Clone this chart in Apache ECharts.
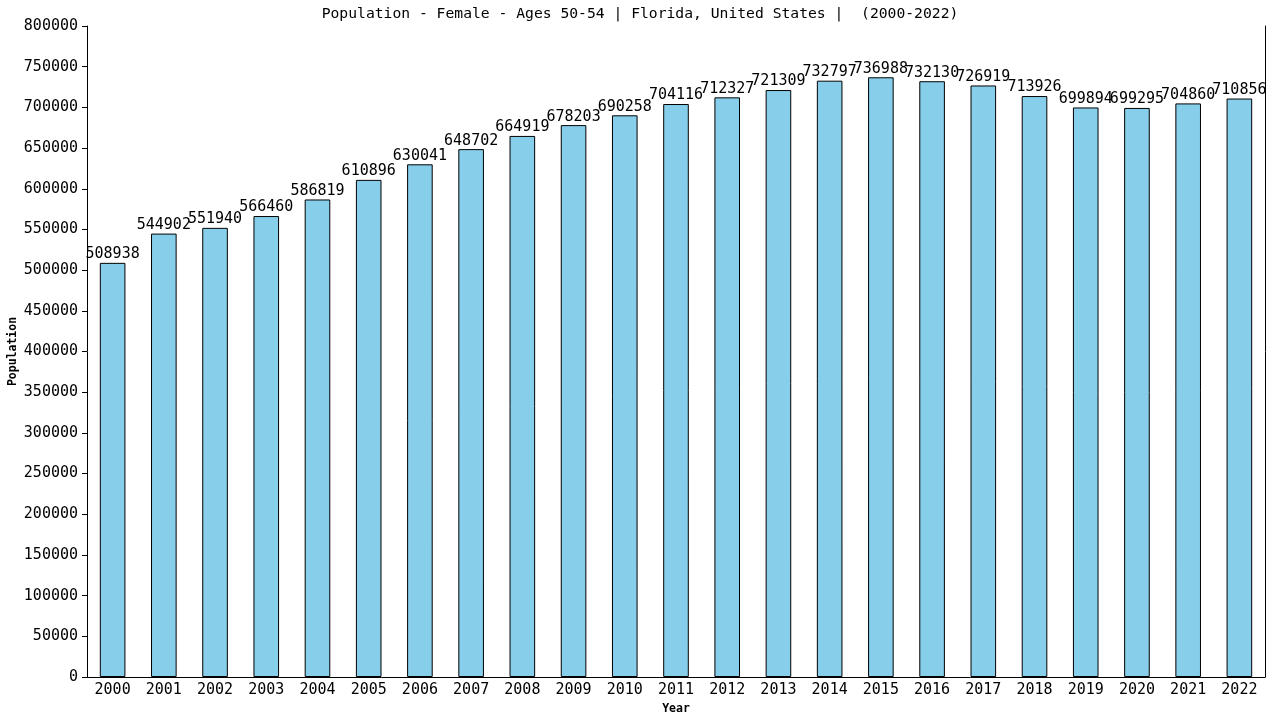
<!DOCTYPE html>
<html>
<head>
	<title>Population - Female - Ages 50-54</title>
	<meta charset="utf-8">
	<script src="https://cdn.jsdelivr.net/npm/echarts@6/dist/echarts.min.js"></script>
	<style type="text/css">
		body{ margin:0; background:#fff; }
		#main{ width:1280px; height:720px; }
	</style>
</head>
<body>
	<div id="main"></div>
	<script type="text/javascript">
		var years = ['2000','2001','2002','2003','2004','2005','2006','2007','2008','2009','2010','2011',
			'2012','2013','2014','2015','2016','2017','2018','2019','2020','2021','2022'];
		var population = [508938,544902,551940,566460,586819,610896,630041,648702,664919,678203,690258,704116,
			712327,721309,732797,736988,732130,726919,713926,699894,699295,704860,710856];
		var yTicks = {min:0, max:800000, interval:50000};

		var font = 'DejaVu Sans Mono';
		var myChart = echarts.init(document.getElementById('main'));
		var option = {
			animation:false,
			backgroundColor:'#fff',
			title:{
				text:'Population - Female - Ages 50-54 | Florida, United States |  (2000-2022)',
				left:'center',
				top:2,
				textStyle:{fontFamily:font, fontSize:14.7, fontWeight:'normal', color:'#000'}
			},
			grid:{left:87, right:15, top:26, bottom:43, containLabel:false, outerBoundsMode:'none'},
			xAxis:{
				type:'category',
				data:years,
				name:'Year',
				nameLocation:'middle',
				nameGap:26,
				nameMoveOverlap:false,
				nameTextStyle:{fontFamily:font, fontSize:11.5, fontWeight:'bold', color:'#000'},
				axisLine:{lineStyle:{color:'#000', width:1}},
				axisTick:{show:false},
				axisLabel:{fontFamily:font, fontSize:15, color:'#000', margin:6}
			},
			yAxis:[{
				type:'value',
				min:yTicks.min, max:yTicks.max, interval:yTicks.interval,
				name:'Population',
				nameLocation:'middle',
				nameGap:74,
				nameMoveOverlap:false,
				nameTextStyle:{fontFamily:font, fontSize:11.5, fontWeight:'bold', color:'#000', verticalAlign:'middle'},
				axisLine:{show:true, lineStyle:{color:'#000', width:1}},
				axisTick:{show:true, length:5, lineStyle:{color:'#000'}},
				axisLabel:{fontFamily:font, fontSize:15, color:'#000', margin:9,
					formatter:function(v){ return String(v); }},
				splitLine:{show:false}
			},{
				type:'value',
				position:'right',
				min:yTicks.min, max:yTicks.max, interval:yTicks.interval,
				axisLine:{show:true, lineStyle:{color:'#000', width:1}},
				axisTick:{show:false},
				axisLabel:{show:false},
				splitLine:{show:false}
			}],
			series:[{
				type:'bar',
				data:population,
				barWidth:'50%',
				itemStyle:{color:'#87ceeb', borderColor:'#000', borderWidth:1},
				label:{
					show:true,
					position:'top',
					distance:1,
					fontFamily:font,
					fontSize:15,
					color:'#000'
				}
			}]
		};
		myChart.setOption(option);
	</script>
</body>
</html>
